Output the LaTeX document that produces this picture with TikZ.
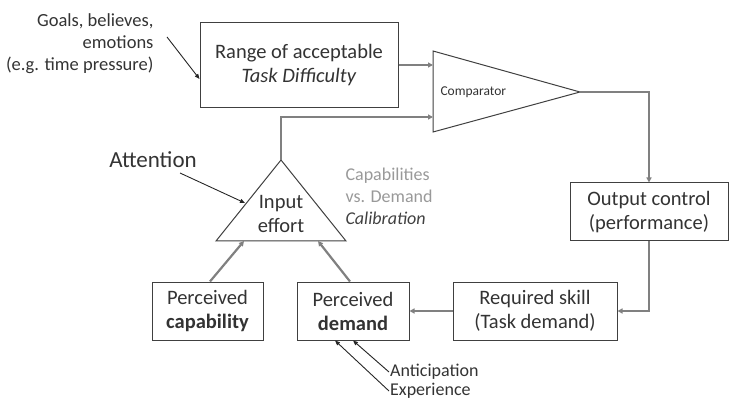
\documentclass[tikz,border=0pt]{standalone}
\usepackage{fontspec}
\setmainfont{Carlito}
\usetikzlibrary{arrows.meta}
\begin{document}
\begin{tikzpicture}[x=1pt,y=-1pt, every node/.style={text=black!80},
  box/.style={draw=black!75, line width=1pt, fill=white, align=center,
    font=\fontsize{20.5}{24}\selectfont, inner sep=0pt},
  flow/.style={draw=black!50, line width=2.2pt, -{Triangle[length=5pt,width=5pt]}},
  hint/.style={draw=black!85, line width=0.9pt, -{Triangle[length=5pt,width=4pt]}},
  tri/.style={draw=black!75, line width=1pt, fill=white}]
\useasboundingbox (0,0) rectangle (729,401);

% Boxes
\node[box, minimum width=198pt, minimum height=85pt] (range) at (299,65.5)
  {Range of acceptable\\\textit{Task Difficulty}};
\node[box, minimum width=158pt, minimum height=58pt] (outctl) at (649,212)
  {Output control\\(performance)};
\node[box, minimum width=164pt, minimum height=58pt] (skill) at (535,311)
  {Required skill\\(Task demand)};
\node[box, minimum width=112pt, minimum height=58pt] (pdem) at (353,311)
  {Perceived\\\textbf{demand}};
\node[box, minimum width=111pt, minimum height=58pt] (pcap) at (207.5,311)
  {Perceived\\\textbf{capability}};

% Comparator
\coordinate (cmptop) at (433,51);
\coordinate (cmpbot) at (433,132);
\coordinate (cmptip) at (580,92);
\coordinate (cmpin1) at (433,65);
\coordinate (cmpin2) at (433,117);
\draw[tri] (cmptop) -- (cmptip) -- (cmpbot) -- cycle;
\node[anchor=west, font=\fontsize{13.5}{16}\selectfont] (cmp) at (437,92) {Comparator};

% Input effort
\coordinate (inapex) at (281,160);
\coordinate (inleft) at (216,241);
\coordinate (inright) at (346,241);
\coordinate (incap) at (244,241);
\coordinate (indem) at (318,241);
\draw[tri] (inapex) -- (inright) -- (inleft) -- cycle;
\node[align=center, font=\fontsize{20.5}{24}\selectfont] (ineff) at (281,214) {Input\\effort};

% Main loop
\draw[flow] (range.east |- cmpin1) -- (cmpin1);
\draw[flow] (inapex) |- (cmpin2);
\draw[flow] (cmptip) -| (outctl.north);
\draw[flow] (outctl.south) |- (skill.east);
\draw[flow] (skill.west) -- (pdem.east);
\draw[flow] (pcap.north -| 210,0) -- (incap);
\draw[flow] (pdem.north -| 350,0) -- (indem);

% Influences
\node[anchor=east, align=right, font=\fontsize{18.5}{22}\selectfont] (goals) at (157,44)
  {Goals, believes,\\emotions\\(e.g. time pressure)};
\coordinate (goalsend) at (167,37);
\draw[hint] (goalsend) -- (range.west |- 0,79);

\node[font=\fontsize{23}{26}\selectfont] (attn) at (153,160) {Attention};
\coordinate (attnend) at (180,173);
\coordinate (attntip) at (245,203);
\draw[hint] (attnend) -- (attntip);

\node[anchor=west, inner sep=1pt, font=\fontsize{18}{22}\selectfont] (antic) at (389,372) {Anticipation};
\node[anchor=west, inner sep=1pt, font=\fontsize{18}{22}\selectfont] (exper) at (389,391) {Experience};
\draw[hint] (antic.west) -- (pdem.south -| 353,0);
\draw[hint] (exper.west) -- (pdem.south -| 335,0);

% Calibration
\node[anchor=west, align=left, text=black!40, font=\fontsize{18}{22}\selectfont] (calib) at (342,196)
  {Capabilities\\vs. Demand\\\textcolor{black!75}{\textit{Calibration}}};

\end{tikzpicture}
\end{document}
